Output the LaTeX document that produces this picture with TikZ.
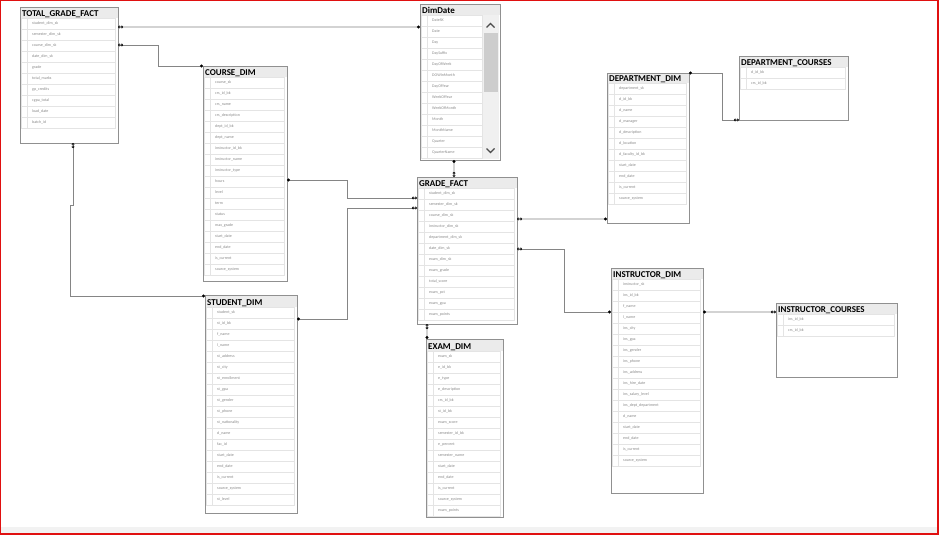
\documentclass[tikz,border=0pt]{standalone}
\usepackage{fontspec}
\setmainfont{Carlito}
\usetikzlibrary{arrows.meta}
\definecolor{boxgray}{HTML}{909090}
\definecolor{hdrgray}{HTML}{EBEBEB}
\definecolor{rowgray}{HTML}{E4E4E4}
\definecolor{txtgray}{HTML}{8A8A8A}
\definecolor{linegray}{HTML}{858585}
\definecolor{stripgray}{HTML}{F2F2F2}
\definecolor{scrolltrack}{HTML}{F0F0F0}
\definecolor{scrollthumb}{HTML}{CDCDCD}
\definecolor{framered}{HTML}{E01010}
\tikzset{
  tblbox/.style={draw=none, fill=white, inner sep=0pt, outer sep=0pt},
  tblborder/.style={draw=boxgray, line width=0.9bp},
  hdrfill/.style={fill=hdrgray},
  rowline/.style={draw=rowgray, line width=0.5bp},
  ttl/.style={font=\bfseries\fontsize{9}{10}\selectfont, text=black, inner sep=0pt},
  rowtxt/.style={font=\fontsize{4}{5}\selectfont, text=txtgray, inner sep=0pt},
  conn/.style={draw=linegray, line width=0.9bp,
    {Diamond[open,black,length=2.6bp,width=3bp,line width=0.5bp]Diamond[open,black,length=2.6bp,width=3bp,line width=0.5bp]}-{Circle[black,length=3bp]}},
}
\newcommand\erdtable[9]{%
  \pgfmathsetmacro\tblw{#4-#2}%
  \pgfmathsetmacro\tblh{#5-#3}%
  \node[tblbox, minimum width=\tblw bp, minimum height=\tblh bp, anchor=north west] (#1) at (#2,#3) {};
  \fill[hdrfill] (#2,#3) rectangle (#4,#6);
  \node[ttl, anchor=base west] (#1-title) at (#2+2,#6-1.5) {#7};
  \foreach \r [count=\i] in {#8} {
    \pgfmathsetmacro\ya{#6+11*(\i-1)}
    \pgfmathsetmacro\yb{#6+11*\i}
    \draw[rowline] (#2+1.5,\ya) rectangle (#9,\yb);
    \draw[rowline] (#2+7,\ya) -- (#2+7,\yb);
    \node[rowtxt, anchor=west] (#1-r\i) at (#2+12,{(\ya+\yb)/2}) {\r};
  }
  \draw[tblborder] (#1.north west) rectangle (#1.south east);
}
\begin{document}
\begin{tikzpicture}[x=1bp,y=-1bp]
\useasboundingbox (0,0) rectangle (939,535);
\fill[white] (0,0) rectangle (939,535);
\fill[stripgray] (1,527) rectangle (937,533);

% tables
\erdtable{tgf}{20}{7}{118}{143}{18}{TOTAL\_GRADE\_FACT}{student\_dim\_sk,semester\_dim\_sk,course\_dim\_sk,date\_dim\_sk,grade,total\_marks,gp\_credits,cgpa\_total,load\_date,batch\_id}{115}
\erdtable{course}{203}{66}{287}{281}{77}{COURSE\_DIM}{course\_sk,crs\_id\_bk,crs\_name,crs\_description,dept\_id\_bk,dept\_name,instructor\_id\_bk,instructor\_name,instructor\_type,hours,level,term,status,max\_grade,start\_date,end\_date,is\_current,source\_system}{284}
\erdtable{dimdate}{420}{4}{500}{160}{15}{DimDate}{DateSK,Date,Day,DaySuffix,DayOfWeek,DOWInMonth,DayOfYear,WeekOfYear,WeekOfMonth,Month,MonthName,Quarter,QuarterName}{482}
\erdtable{grade}{417}{177}{517}{324}{188}{GRADE\_FACT}{student\_dim\_sk,semester\_dim\_sk,course\_dim\_sk,instructor\_dim\_sk,department\_dim\_sk,date\_dim\_sk,exam\_dim\_sk,exam\_grade,total\_score,exam\_pct,exam\_gpa,exam\_points}{514}
\erdtable{exam}{426}{339}{503}{517}{351}{EXAM\_DIM}{exam\_sk,e\_id\_bk,e\_type,e\_description,crs\_id\_bk,st\_id\_bk,exam\_score,semester\_id\_bk,e\_percent,semester\_name,start\_date,end\_date,is\_current,source\_system,exam\_points}{500}
\erdtable{student}{205}{295}{297}{513}{307}{STUDENT\_DIM}{student\_sk,st\_id\_bk,f\_name,l\_name,st\_address,st\_city,st\_enrollment,st\_gpa,st\_gender,st\_phone,st\_nationality,d\_name,fac\_id,start\_date,end\_date,is\_current,source\_system,st\_level}{294}
\erdtable{dept}{607}{73}{689}{223}{83}{DEPARTMENT\_DIM}{department\_sk,d\_id\_bk,d\_name,d\_manager,d\_description,d\_location,d\_faculty\_id\_bk,start\_date,end\_date,is\_current,source\_system}{686}
\erdtable{deptc}{739}{56}{848}{120}{67}{DEPARTMENT\_COURSES}{d\_id\_bk,crs\_id\_bk}{845}
\erdtable{instr}{611}{268}{703}{493}{279}{INSTRUCTOR\_DIM}{instructor\_sk,ins\_id\_bk,f\_name,l\_name,ins\_city,ins\_gpa,ins\_gender,ins\_phone,ins\_address,ins\_hire\_date,ins\_salary\_level,ins\_dept\_department,d\_name,start\_date,end\_date,is\_current,source\_system}{700}
\erdtable{instrc}{776}{303}{897}{377}{314}{INSTRUCTOR\_COURSES}{ins\_id\_bk,crs\_id\_bk}{894}

% DimDate scrollbar
\fill[scrolltrack] (482.5,15) rectangle (499,159.3);
\fill[scrollthumb] (484,33) rectangle (497.5,92);
\draw[black!70, line width=1.1bp] (486.5,27.5) -- (490.5,23.5) -- (494.5,27.5);
\draw[black!70, line width=1.1bp] (486.5,148.5) -- (490.5,152.5) -- (494.5,148.5);
\draw[tblborder] (dimdate.north west) rectangle (dimdate.south east);

% connectors (many end -> one end)
\draw[conn] ([yshift=-20bp]tgf.north east) -- ([yshift=-23bp]dimdate.north west);
\draw[conn] ([yshift=-38bp]tgf.north east) -- ++(40,0) |- (course.north west);
\draw[conn] ([xshift=4bp]tgf.south) -- ++(0,62) -- ++(-3,0) |- ([yshift=-1bp]student.north west);
\draw[conn] ([yshift=-21bp]grade.north west) -- ++(-70,0) |- ([yshift=-114bp]course.north east);
\draw[conn] ([yshift=-31bp]grade.north west) -- ++(-70,0) |- ([yshift=-24bp]student.north east);
\draw[conn] ([xshift=37bp]grade.north west) -- ([xshift=34bp]dimdate.south west);
\draw[conn] ([xshift=10bp]grade.south west) -- ([xshift=1bp]exam.north west);
\draw[conn] ([yshift=-42bp]grade.north east) -- ([yshift=-146bp]dept.north west);
\draw[conn] ([yshift=-72bp]grade.north east) -- ++(47,0) |- ([yshift=-44bp]instr.north west);
\draw[conn] (deptc.south west) -- ++(-17,0) |- (dept.north east);
\draw[conn] ([yshift=-9bp]instrc.north west) -- ([yshift=-44bp]instr.north east);

% frame
\draw[framered, line width=1.5bp] (0.75,0.75) rectangle (937.8,534);
\end{tikzpicture}
\end{document}
